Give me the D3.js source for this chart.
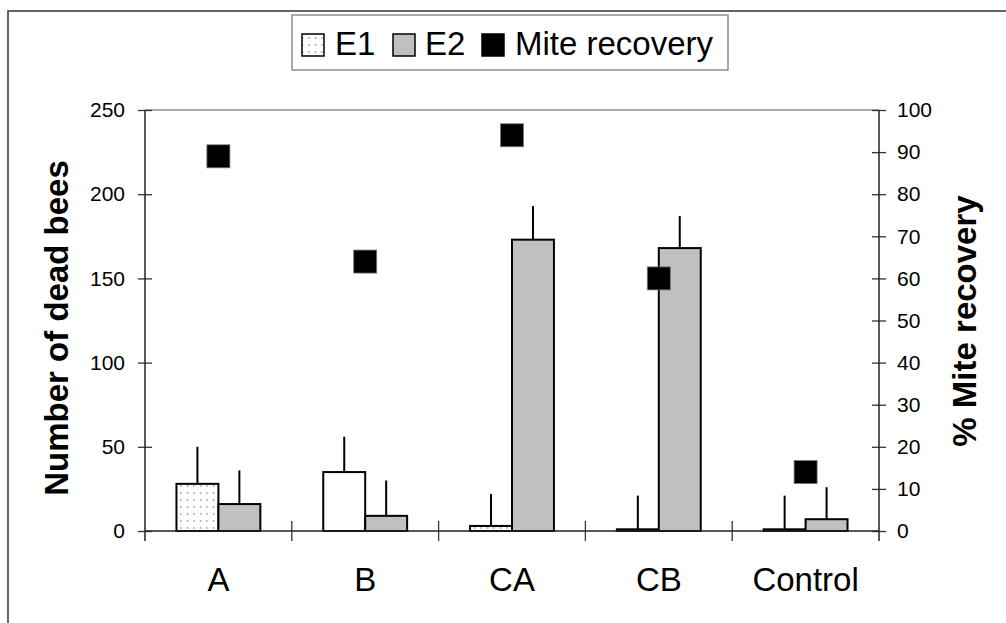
<!DOCTYPE html>
<html>
  <head>
    <meta charset="utf-8">
    <title>Dead bees and mite recovery</title>
    <script src="https://d3js.org/d3.v7.min.js"></script>
    <style>
      body { margin: 0; background: #fff; }
      text { font-family: Arial, "Liberation Sans", sans-serif; fill: #000; }
    </style>
  </head>
  <body>
    <div id="vis"></div>
    <script>
        // data
        const categories = ["A", "B", "CA", "CB", "Control"];
        const e1Values = [28, 35, 3, 1, 1];
        const e1Errors = [22, 21, 19, 20, 20];
        const e2Values = [16, 9, 173, 168, 7];
        const e2Errors = [20, 21, 20, 19, 19];
        const miteRecovery = [89, 64, 94, 60, 14];
        const leftTicks = [0, 50, 100, 150, 200, 250];
        const rightTicks = [0, 10, 20, 30, 40, 50, 60, 70, 80, 90, 100];

        const width = 1006;
        const height = 623;
        const plotLeft = 145, plotRight = 879, plotTop = 110, plotBottom = 531;

        const vis = d3.select("#vis").append("svg")
          .attr("width", width).attr("height", height);

        // dotted fill used for E1
        const defs = vis.append("defs");
        const pat = defs.append("pattern")
          .attr("id", "dots")
          .attr("patternUnits", "userSpaceOnUse")
          .attr("width", 6.5).attr("height", 7);
        pat.append("rect").attr("width", 6.5).attr("height", 7).attr("fill", "#fff");
        pat.append("rect").attr("x", 3).attr("y", 2).attr("width", 1).attr("height", 2).attr("fill", "#8a8a8a");

        // outer frame
        vis.append("rect")
          .attr("x", 8).attr("y", 11)
          .attr("width", 1100).attr("height", 700)
          .attr("fill", "none").attr("stroke", "#404040").attr("stroke-width", 1.6);

        const x = d3.scaleBand().domain(categories).range([plotLeft, plotRight]);
        const sub = d3.scaleBand().domain(["E1", "E2"]).range([0, x.bandwidth()]).paddingOuter(0.75);
        const yL = d3.scaleLinear().domain([0, 250]).range([plotBottom, plotTop]);
        const yR = d3.scaleLinear().domain([0, 100]).range([plotBottom, plotTop]);

        const rows = categories.map((c, i) => ({
          cat: c,
          bars: [
            {key: "E1", v: e1Values[i], err: e1Errors[i]},
            {key: "E2", v: e2Values[i], err: e2Errors[i]}
          ],
          mite: miteRecovery[i]
        }));

        // plot area top border
        vis.append("line")
          .attr("x1", plotLeft).attr("x2", plotRight).attr("y1", plotTop).attr("y2", plotTop)
          .attr("stroke", "#8c8c8c").attr("stroke-width", 1.5);

        // left axis
        const gl = vis.append("g")
          .attr("transform", `translate(${plotLeft},0)`)
          .call(d3.axisLeft(yL).tickValues(leftTicks).tickSizeInner(7).tickSizeOuter(0).tickPadding(13));
        gl.select(".domain").remove();
        gl.selectAll(".tick line").attr("x1", 7).attr("stroke", "#333").attr("stroke-width", 1.3);
        gl.selectAll(".tick text").style("font-size", "21px").attr("fill", "#000");

        // right axis
        const gr = vis.append("g")
          .attr("transform", `translate(${plotRight},0)`)
          .call(d3.axisRight(yR).tickValues(rightTicks).tickSizeInner(7).tickSizeOuter(0).tickPadding(11));
        gr.select(".domain").remove();
        gr.selectAll(".tick line").attr("x1", -7).attr("stroke", "#333").attr("stroke-width", 1.3);
        gr.selectAll(".tick text").style("font-size", "21px").attr("fill", "#000");

        // axis lines
        vis.append("line").attr("x1", plotLeft).attr("x2", plotLeft).attr("y1", plotTop).attr("y2", plotBottom + 10)
          .attr("stroke", "#222").attr("stroke-width", 1.5);
        vis.append("line").attr("x1", plotRight).attr("x2", plotRight).attr("y1", plotTop).attr("y2", plotBottom + 10)
          .attr("stroke", "#222").attr("stroke-width", 1.5);

        // category axis
        const gb = vis.append("g")
          .attr("transform", `translate(0,${plotBottom})`)
          .call(d3.axisBottom(x).tickSize(0).tickPadding(37));
        gb.select(".domain").remove();
        gb.selectAll(".tick text").style("font-size", "33px").attr("fill", "#000");

        const bounds = categories.map(c => x(c)).slice(1);
        vis.append("g").selectAll("line")
          .data(bounds)
          .enter()
          .append("line")
          .attr("x1", d => d).attr("x2", d => d)
          .attr("y1", plotBottom - 10).attr("y2", plotBottom + 10)
          .attr("stroke", "#333").attr("stroke-width", 1.3);

        // bars
        const group = vis.append("g").selectAll("g")
          .data(rows)
          .enter()
          .append("g")
          .attr("transform", d => `translate(${x(d.cat)},0)`);

        const e1Fill = d => d === "B" ? "#fff" : "url(#dots)";

        group.selectAll("rect")
          .data(d => d.bars.map(b => Object.assign({cat: d.cat}, b)))
          .enter()
          .append("rect")
          .attr("x", d => sub(d.key))
          .attr("width", sub.bandwidth())
          .attr("y", d => yL(d.v))
          .attr("height", d => yL(0) - yL(d.v))
          .attr("fill", d => d.key === "E1" ? e1Fill(d.cat) : "#c0c0c0")
          .attr("stroke", "#000").attr("stroke-width", 2);

        // error bars (upper only)
        group.selectAll("line.err")
          .data(d => d.bars)
          .enter()
          .append("line")
          .attr("class", "err")
          .attr("x1", d => sub(d.key) + sub.bandwidth() / 2)
          .attr("x2", d => sub(d.key) + sub.bandwidth() / 2)
          .attr("y1", d => yL(d.v))
          .attr("y2", d => yL(d.v + d.err))
          .attr("stroke", "#000").attr("stroke-width", 2);

        // x axis line
        vis.append("line").attr("x1", plotLeft).attr("x2", plotRight).attr("y1", plotBottom).attr("y2", plotBottom)
          .attr("stroke", "#222").attr("stroke-width", 1.5);

        // mite recovery markers
        const msize = 23;
        vis.append("g").selectAll("rect")
          .data(rows)
          .enter()
          .append("rect")
          .attr("x", d => x(d.cat) + x.bandwidth() / 2 - msize / 2)
          .attr("y", d => yR(d.mite) - msize / 2)
          .attr("width", msize).attr("height", msize)
          .attr("fill", "#000").attr("stroke", "#777").attr("stroke-width", 0.8);

        // axis titles
        vis.append("text")
          .attr("transform", "translate(68,328) rotate(-90)")
          .attr("text-anchor", "middle")
          .style("font-size", "33px").style("font-weight", "bold")
          .text("Number of dead bees");
        vis.append("text")
          .attr("transform", "translate(976,321) rotate(-90)")
          .attr("text-anchor", "middle")
          .style("font-size", "33px").style("font-weight", "bold")
          .text("% Mite recovery");

        // legend
        const lg = vis.append("g");
        lg.append("rect")
          .attr("x", 292).attr("y", 15).attr("width", 436).attr("height", 55)
          .attr("fill", "#fff").attr("stroke", "#8c8c8c").attr("stroke-width", 1.5);
        const legendItems = [
          {label: "E1", fill: "url(#dots)", sx: 302, tx: 335},
          {label: "E2", fill: "#c0c0c0", sx: 393, tx: 425},
          {label: "Mite recovery", fill: "#000", sx: 482, tx: 515}
        ];
        legendItems.forEach(function(d) {
          lg.append("rect")
            .attr("x", d.sx).attr("y", 34).attr("width", 22).attr("height", 22)
            .attr("fill", d.fill).attr("stroke", "#000").attr("stroke-width", 1.5);
          lg.append("text")
            .attr("x", d.tx).attr("y", 55)
            .style("font-size", "33px")
            .text(d.label);
        });
    </script>
  </body>
</html>
